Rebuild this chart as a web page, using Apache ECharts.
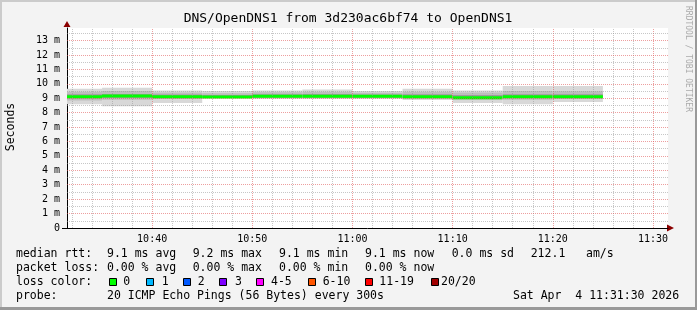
<!DOCTYPE html>
<html><head><meta charset="utf-8">
<script src="https://cdn.jsdelivr.net/npm/echarts@6/dist/echarts.min.js"></script>
<style>html,body{margin:0;padding:0;background:#f3f3f3}#c{width:697px;height:310px}</style>
</head><body><div id="c"></div>
<script>
// ---- data ----
const segStart = ['10:30','10:35','10:40','10:45','10:50','10:55','11:00','11:05','11:10','11:15','11:20'];
const segEnd   = ['10:35','10:40','10:45','10:50','10:55','11:00','11:05','11:10','11:15','11:20','11:25'];
const rttMin   = [8.58, 8.44, 8.67, 9.00, 8.96, 8.97, 8.97, 8.87, 8.67, 8.58, 8.73];
const rttP10   = [8.85, 8.90, 8.95, 9.02, 8.99, 9.00, 9.00, 8.97, 8.90, 8.90, 8.95];
const rttP25   = [9.00, 9.02, 9.03, 9.04, 9.05, 9.05, 9.05, 9.02, 8.98, 9.03, 9.04];
const rttMedian= [9.11, 9.16, 9.11, 9.09, 9.14, 9.13, 9.13, 9.10, 9.04, 9.11, 9.11];
const rttP75   = [9.28, 9.30, 9.25, 9.22, 9.28, 9.30, 9.25, 9.28, 9.22, 9.28, 9.28];
const rttP90   = [9.45, 9.50, 9.40, 9.35, 9.42, 9.45, 9.38, 9.45, 9.40, 9.50, 9.48];
const rttMax   = [9.66, 9.73, 9.54, 9.50, 9.54, 9.61, 9.50, 9.66, 9.54, 9.84, 9.84];
const xTickLabels = ['10:40','10:50','11:00','11:10','11:20','11:30'];
const viewStart = '10:31:30', viewEnd = '11:31:30';
const yTicks = [0,1,2,3,4,5,6,7,8,9,10,11,12,13];
const statsRtt = ['9.1 ms avg','9.2 ms max','9.1 ms min','9.1 ms now','0.0 ms sd','212.1','am/s'];
const statsLoss = ['0.00 % avg','0.00 % max','0.00 % min','0.00 % now'];
const lossLabels = ['0','1','2','3','4-5','6-10','11-19','20/20'];
const lossColors = ['#00ff00','#00b8ff','#0059ff','#7e00ff','#ff00ff','#ff5500','#ff0000','#a10000'];
const probeText = '20 ICMP Echo Pings (56 Bytes) every 300s';
const dateText = 'Sat Apr  4 11:31:30 2026';
const titleText = 'DNS/OpenDNS1 from 3d230ac6bf74 to OpenDNS1';

// ---- helpers ----
function toMin(s){const p=s.split(':').map(Number);return p[0]*60+p[1]+(p[2]||0)/60;}
const xMin = toMin(viewStart), xMax = toMin(viewEnd);
const majorX = xTickLabels.map(toMin);
const minorX = [];
for (let m = Math.ceil(xMin/2)*2; m <= xMax; m += 2) if (m % 10 !== 0) minorX.push(m);
const majorY = yTicks.filter(v => v > 0);
const minorY = yTicks.map(v => v + 0.5);

const segData = segStart.map((s,i)=>[toMin(s), toMin(segEnd[i]), rttMin[i], rttP10[i], rttP25[i], rttP75[i], rttP90[i], rttMax[i], rttMedian[i]]);

const MONO = '"DejaVu Sans Mono", monospace';
const majorStyle = {color:'rgba(222,80,80,0.55)', width:1, type:[1,1]};
const minorStyle = {color:'rgba(143,143,143,0.5)', width:1, type:[1,1]};

function band(api, x0, x1, lo, hi, color){
  const p0 = api.coord([x0, hi]), p1 = api.coord([x1, lo]);
  return {type:'rect', shape:{x:p0[0], y:p0[1], width:p1[0]-p0[0], height:p1[1]-p0[1]}, style:{fill:color}};
}

const chart = echarts.init(document.getElementById('c'), null, {renderer:'canvas'});

const graphics = [];
// frame
graphics.push({type:'rect', shape:{x:0,y:0,width:697,height:2}, style:{fill:'#cbcbcb'}, silent:true});
graphics.push({type:'rect', shape:{x:0,y:0,width:2,height:310}, style:{fill:'#cbcbcb'}, silent:true});
graphics.push({type:'rect', shape:{x:695,y:0,width:2,height:310}, style:{fill:'#999999'}, silent:true});
graphics.push({type:'rect', shape:{x:0,y:307,width:697,height:3}, style:{fill:'#999999'}, silent:true});
// title
graphics.push({type:'text', x:348, y:19, style:{text:titleText, font:'13px '+MONO, fill:'#000', align:'center', verticalAlign:'middle'}});
// Seconds label
graphics.push({type:'text', x:11, y:127, rotation:Math.PI/2, style:{text:'Seconds', font:'11.5px '+MONO, fill:'#000', align:'center', verticalAlign:'middle'}});
// watermark
graphics.push({type:'text', x:688, y:59, rotation:-Math.PI/2, style:{text:'RRDTOOL / TOBI OETIKER', font:'8px '+MONO, fill:'#aaaaaa', align:'center', verticalAlign:'middle'}});
// arrows
graphics.push({type:'polygon', shape:{points:[[63.5,27],[70.5,27],[67,21]]}, style:{fill:'#8b0000'}});
graphics.push({type:'polygon', shape:{points:[[667,224.5],[667,231.5],[674,228]]}, style:{fill:'#8b0000'}});
graphics.push({type:'line', shape:{x1:62,y1:228.5,x2:67,y2:228.5}, style:{stroke:'#000',lineWidth:1}});
// legend texts
const F = '11.5px '+MONO;
function txt(t,x,y){graphics.push({type:'text', x:x, y:y, style:{text:t, font:F, fill:'#000', verticalAlign:'middle'}});}
const statX = [107,192.7,279,365,451.7,530.7,586];
txt('median rtt:',16,254);
statsRtt.forEach((t,i)=>txt(t,statX[i],254));
txt('packet loss:',16,268);
statsLoss.forEach((t,i)=>txt(t,statX[i],268));
txt('loss color:',16,282);
const boxX = [109,145.7,182.7,219.3,256,307.7,365.3,430.7];
const lblX = [123.3,161.7,197.7,235,271,322.7,379.3,441];
lossLabels.forEach((t,i)=>{
  graphics.push({type:'rect', shape:{x:Math.round(boxX[i])+0.5,y:278.5,width:7,height:7}, style:{fill:lossColors[i], stroke:'#000', lineWidth:1}});
  txt(t,lblX[i],282);
});
txt('probe:',16,296);
txt(probeText,107,296);
txt(dateText,513,296);

const gridLines = [];
minorX.forEach(v=>gridLines.push({xAxis:v, lineStyle:minorStyle}));
majorX.forEach(v=>gridLines.push({xAxis:v, lineStyle:majorStyle}));
minorY.forEach(v=>gridLines.push({yAxis:v, lineStyle:minorStyle}));
majorY.forEach(v=>gridLines.push({yAxis:v, lineStyle:majorStyle}));

chart.setOption({
  backgroundColor:'#f3f3f3',
  animation:false,
  grid:{left:67, top:28, width:601, height:200, show:true, backgroundColor:'#ffffff', borderWidth:0},
  xAxis:{type:'value', min:xMin, max:xMax,
    axisLine:{show:true, onZero:false, lineStyle:{color:'#000', width:1}},
    axisTick:{show:false},
    splitLine:{show:false},
    axisLabel:{show:true, customValues:majorX, margin:6, fontFamily:'DejaVu Sans Mono', fontSize:10, color:'#000',
      formatter:v=>{const h=Math.floor(v/60), m=Math.round(v-h*60); return String(h).padStart(2,'0')+':'+String(m).padStart(2,'0');}}
  },
  yAxis:{type:'value', min:0, max:13.87, interval:1,
    axisLine:{show:true, lineStyle:{color:'#000', width:1}},
    axisTick:{show:false},
    splitLine:{show:false},
    axisLabel:{margin:7, fontFamily:'DejaVu Sans Mono', fontSize:10, color:'#000',
      formatter:v=>v===0?'0':(Number.isInteger(v)?v+' m':'')}
  },
  graphic:graphics,
  series:[
    {type:'custom', z:2, clip:true, data:segData,
     renderItem:(params, api)=>{
       const x0=api.value(0), x1=api.value(1);
       const ch=[
         band(api,x0,x1,api.value(2),api.value(7),'#d8d8d8'),
         band(api,x0,x1,api.value(3),api.value(6),'#bdbdbd'),
         band(api,x0,x1,api.value(4),api.value(5),'#9c9c9c')
       ];
       const pm0=api.coord([x0, api.value(8)]), pm1=api.coord([x1, api.value(8)]);
       ch.push({type:'rect', shape:{x:pm0[0], y:pm0[1]-1.5, width:pm1[0]-pm0[0], height:3}, style:{fill:'#00ff00'}});
       return {type:'group', children:ch};
     }},
    {type:'line', z:5, data:[], silent:true,
     markLine:{silent:true, symbol:['none','none'], label:{show:false}, animation:false, data:gridLines}}
  ]
});
</script></body></html>
